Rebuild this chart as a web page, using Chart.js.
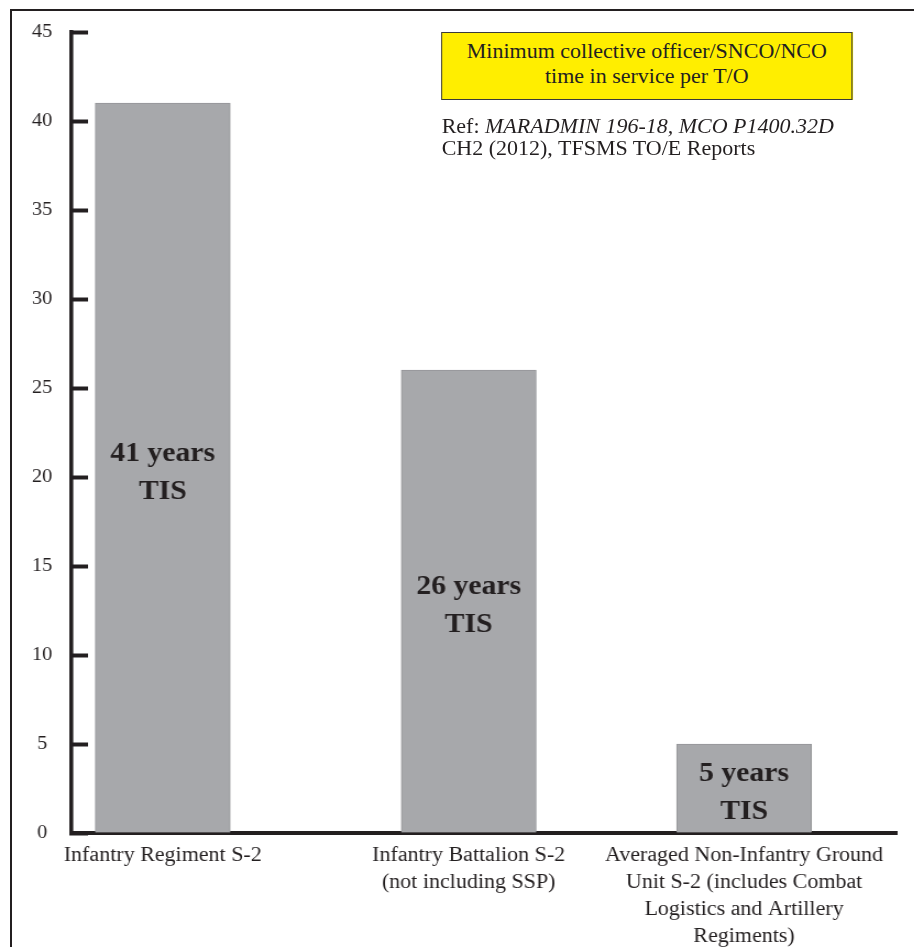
<!DOCTYPE html>
<html>
<head>
<meta charset="utf-8">
<title>Minimum collective time in service per T/O</title>
<script src="https://cdn.jsdelivr.net/npm/chart.js@4.4.1/dist/chart.umd.min.js"></script>
<style>
  html, body { margin: 0; padding: 0; background: #fff; width: 914px; height: 947px; overflow: hidden; }
  #frame { position: absolute; left: 10px; top: 9px; width: 1000px; height: 1000px;
           border-top: 2px solid #231f20; border-left: 2px solid #231f20; }
  /* the whole figure is set slightly wide, as in the printed original */
  #stage { position: absolute; left: 0; top: 0; width: 831px; height: 947px;
           transform: scaleX(1.1); transform-origin: 0 0; }
  #chart { position: absolute; left: 0; top: 0; }
  .note { position: absolute; font-family: "Liberation Serif", "Times New Roman", serif; color: #231f20; }
  #box { left: 401px; top: 32px; width: 374px; height: 68px; box-sizing: border-box;
         border: 1.5px solid #3a3a3a; background: #ffee00; text-align: center;
         font-size: 20px; line-height: 25px; padding-top: 6px; }
  #ref { left: 401.5px; top: 114.5px; font-size: 20px; line-height: 22.5px; white-space: nowrap; }
</style>
</head>
<body>
<div id="frame"></div>
<div id="stage">
  <canvas id="chart" width="831" height="947"></canvas>
  <div id="box" class="note">Minimum collective officer/SNCO/NCO<br>time in service per T/O</div>
  <div id="ref" class="note">Ref: <i>MARADMIN 196-18, MCO P1400.32D</i><br>CH2 (2012), TFSMS TO/E Reports</div>
</div>
<script>
// Unit types compared
const categories = [
  ['Infantry Regiment S-2'],
  ['Infantry Battalion S-2', '(not including SSP)'],
  ['Averaged Non-Infantry Ground', 'Unit S-2 (includes Combat', 'Logistics and Artillery', 'Regiments)']
];
// Minimum collective time in service, years
const tisYears = [41, 26, 5];
// Value axis
const yMin = 0;
const yMax = 45;
const yStep = 5;

// The x axis is laid out as a row of narrow slots; each unit sits in one of them
const slotCount = 28;
const barSlots = [3, 13, 22];

const slotLabels = Array(slotCount).fill('');
const slotValues = Array(slotCount).fill(null);
barSlots.forEach((slot, i) => {
  slotLabels[slot] = categories[i];
  slotValues[slot] = tisYears[i];
});

const ink = '#231f20';
const serif = '"Liberation Serif", "Times New Roman", serif';

// Writes "N years / TIS" inside each bar
const barText = {
  id: 'barText',
  afterDatasetsDraw(chart) {
    const ctx = chart.ctx;
    const values = chart.data.datasets[0].data;
    const meta = chart.getDatasetMeta(0);
    ctx.save();
    ctx.font = 'bold 27px ' + serif;
    ctx.fillStyle = ink;
    ctx.textAlign = 'center';
    ctx.textBaseline = 'middle';
    meta.data.forEach((bar, i) => {
      const v = values[i];
      if (v === null || v === undefined) return;
      const mid = (bar.y + bar.base) / 2 + 5;
      ctx.fillText(v + ' years', bar.x, mid - 19);
      ctx.fillText('TIS', bar.x, mid + 19);
    });
    ctx.restore();
  }
};

new Chart(document.getElementById('chart'), {
  type: 'bar',
  data: {
    labels: slotLabels,
    datasets: [{
      data: slotValues,
      backgroundColor: '#a7a8ab',
      borderColor: '#949598',
      borderWidth: 1,
      barThickness: 122.7
    }]
  },
  options: {
    responsive: false,
    animation: false,
    events: [],
    plugins: { legend: { display: false }, tooltip: { enabled: false } },
    layout: { padding: { top: 32, right: 15.5, bottom: 0, left: 0 } },
    scales: {
      x: {
        type: 'category',
        offset: false,
        z: 1,
        grid: { display: false, drawTicks: false },
        border: { display: true, color: ink, width: 4 },
        ticks: {
          autoSkip: false, maxRotation: 0, minRotation: 0, padding: 9,
          color: ink, font: { family: serif, size: 20, lineHeight: 1.35 }
        },
        afterFit(scale) { scale.height = 114; }
      },
      y: {
        min: yMin, max: yMax,
        z: 1,
        grid: { display: true, drawOnChartArea: false, drawTicks: true,
                tickLength: -15.5, tickWidth: 4, tickColor: ink },
        border: { display: true, color: ink, width: 3.6 },
        ticks: {
          stepSize: yStep, crossAlign: 'center', padding: 32.5,
          color: ink, font: { family: serif, size: 18.5 }
        },
        afterFit(scale) {
          scale.width = 64.5;
          // labels sit beside the axis, so they need no extra room above or below
          scale.paddingTop = 0;
          scale.paddingBottom = 0;
        }
      }
    }
  },
  plugins: [barText]
});
</script>
</body>
</html>
